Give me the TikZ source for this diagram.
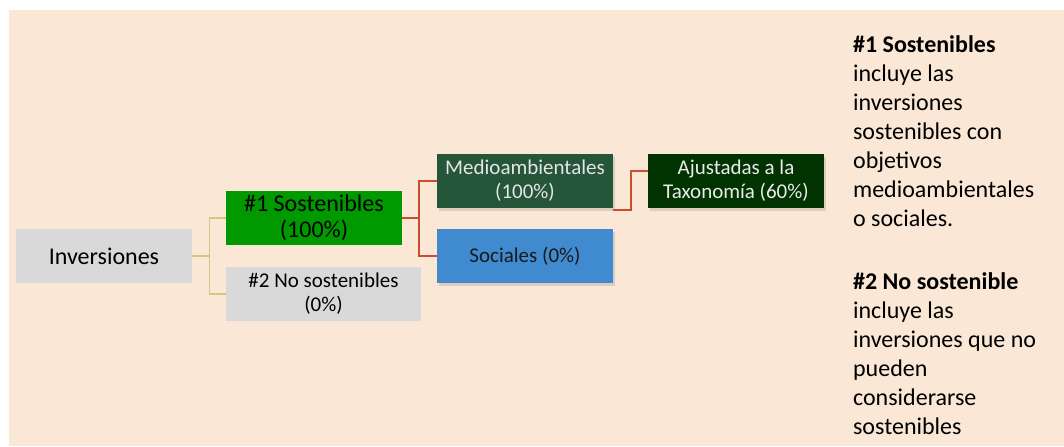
\documentclass[tikz,border=0pt]{standalone}
\usepackage{fontspec}
\setmainfont{Carlito}
\usetikzlibrary{shadows}
\definecolor{fondo}{RGB}{250,231,214}
\definecolor{gris}{RGB}{217,217,217}
\definecolor{verde}{RGB}{0,153,0}
\definecolor{verdeosc}{RGB}{38,86,58}
\definecolor{azul}{RGB}{64,139,208}
\definecolor{taxo}{RGB}{0,51,0}
\definecolor{ocre}{RGB}{212,200,125}
\definecolor{rojo}{RGB}{200,78,45}
\tikzset{
  caja/.style={minimum width=88pt, minimum height=27pt, inner sep=0pt, align=center,
    font=\fontsize{10.5}{12}\selectfont},
  grande/.style={font=\fontsize{12}{13}\selectfont},
  sombra/.style={drop shadow={opacity=0.25, shadow xshift=0.8pt, shadow yshift=-1.5pt}}
}
\begin{document}
\begin{tikzpicture}[x=0.5pt, y=-0.5pt]
      \useasboundingbox (0,0) rectangle (1064,446);
      \fill[fondo] (9,10) rectangle (1064,446);
      \draw
        (104,256) node[caja, grande, fill=gris] (inv) {Inversiones}
        (314,218) node[caja, grande, fill=verde] (sost) {\#1 Sostenibles\\(100\%)}
        (323.5,294) node[caja, fill=gris, minimum width=97.5pt] (nosost) {\#2 No sostenibles\\(0\%)}
        (525,181) node[caja, sombra, fill=verdeosc, text=white!90!black] (medio) {Medioambientales\\(100\%)}
        (525,256) node[caja, sombra, fill=azul, text=black!90] (soc) {Sociales (0\%)}
        (736,181) node[caja, sombra, fill=taxo, text=white!92!black] (ajust) {Ajustadas a la\\Taxonomía (60\%)};
      \node[anchor=north west, inner sep=0pt, align=left,
        font=\fontsize{12}{14.5}\selectfont] (nota) at (852.7,31.4)
        {\strut\textbf{\#1 Sostenibles}\\ incluye las\\ inversiones\\ sostenibles con\\ objetivos\\
         medioambientales\\ o sociales.\\[17.15pt]
         \textbf{\#2 No sostenible}\\ incluye las\\ inversiones que no\\ pueden\\ considerarse\\ sostenibles};
      \begin{scope}[ocre, line width=0.75pt]
        \draw (inv.east) -- ++(17,0) coordinate (r1) |- (sost.west);
        \draw (r1) |- (nosost.west);
      \end{scope}
      \begin{scope}[rojo, line width=1pt]
        \draw (sost.east) -- ++(17,0) coordinate (r2) |- (medio.west);
        \draw (r2) |- (soc.west);
        \draw ([yshift=-0.6pt]medio.south east) -- ++(17.5,0) |- ([yshift=5pt]ajust.west);
      \end{scope}
    \end{tikzpicture}
\end{document}
